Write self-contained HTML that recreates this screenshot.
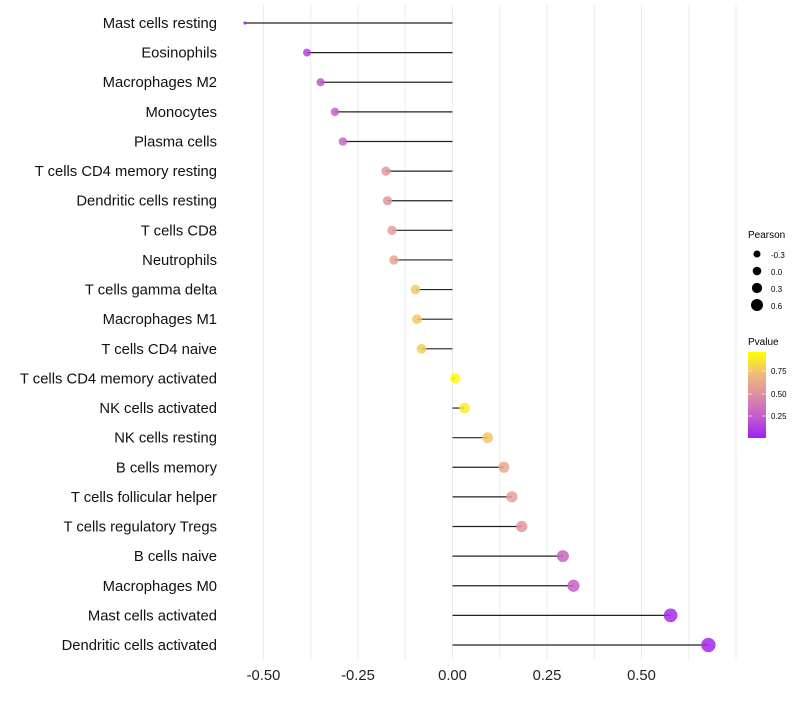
<!DOCTYPE html>
<html><head><meta charset="utf-8"><style>
body{margin:0;background:#fff;font-family:"Liberation Sans",sans-serif}
svg text{font-family:"Liberation Sans",sans-serif}
</style></head><body>
<svg id="chart" width="800" height="700" viewBox="0 0 800 700">
<defs><linearGradient id="pg" x1="0" y1="1" x2="0" y2="0">
<stop offset="0" stop-color="#a020f0"/><stop offset="0.25" stop-color="#c35ccc"/><stop offset="0.5" stop-color="#dc8fa4"/><stop offset="0.75" stop-color="#f0bc78"/><stop offset="1" stop-color="#ffff00"/></linearGradient></defs>
<g id="grid"></g>
<g id="marks"></g>
<g id="ylabels"></g>
<g id="xlabels"></g>
<g>
<text x="748" y="238" font-size="10">Pearson</text>
<circle cx="757" cy="254" r="3.5" fill="#000"/><text x="771" y="258" font-size="8">-0.3</text>
<circle cx="757" cy="271" r="4.3" fill="#000"/><text x="771" y="275" font-size="8">0.0</text>
<circle cx="757" cy="288" r="5.1" fill="#000"/><text x="771" y="292" font-size="8">0.3</text>
<circle cx="757" cy="305" r="6" fill="#000"/><text x="771" y="309" font-size="8">0.6</text>
</g>
<g>
<text x="748" y="345" font-size="10">Pvalue</text>
<rect x="748" y="352" width="18" height="86" fill="url(#pg)"/>
<line x1="748" x2="752" y1="371" y2="371" stroke="#fff" stroke-width="0.6"/><line x1="762" x2="766" y1="371" y2="371" stroke="#fff" stroke-width="0.6"/>
<line x1="748" x2="752" y1="394" y2="394" stroke="#fff" stroke-width="0.6"/><line x1="762" x2="766" y1="394" y2="394" stroke="#fff" stroke-width="0.6"/>
<line x1="748" x2="752" y1="416" y2="416" stroke="#fff" stroke-width="0.6"/><line x1="762" x2="766" y1="416" y2="416" stroke="#fff" stroke-width="0.6"/>
<text x="771" y="374" font-size="8">0.75</text><text x="771" y="397" font-size="8">0.50</text><text x="771" y="419" font-size="8">0.25</text>
</g>
</svg>
<script>
const categories=["Mast cells resting","Eosinophils","Macrophages M2","Monocytes","Plasma cells","T cells CD4 memory resting","Dendritic cells resting","T cells CD8","Neutrophils","T cells gamma delta","Macrophages M1","T cells CD4 naive","T cells CD4 memory activated","NK cells activated","NK cells resting","B cells memory","T cells follicular helper","T cells regulatory  Tregs ","B cells naive","Macrophages M0","Mast cells activated","Dendritic cells activated"];
const pearson=[-0.549,-0.385,-0.349,-0.311,-0.29,-0.176,-0.172,-0.160,-0.155,-0.098,-0.094,-0.082,0.007,0.032,0.093,0.136,0.157,0.183,0.292,0.32,0.577,0.677];
const pvalues=[0.02,0.15,0.22,0.28,0.32,0.55,0.55,0.6,0.62,0.8,0.8,0.82,0.98,0.93,0.78,0.65,0.6,0.55,0.3,0.28,0.05,0.03];
const xTicks=[-0.5,-0.25,0,0.25,0.5];
const xTickLabels=["-0.50","-0.25","0.00","0.25","0.50"];
const NS="http://www.w3.org/2000/svg";
const xs=v=>452.5+v*378;
const ys=i=>23+i*(622/21);
const rs=v=>v<-0.45?1.6:4+3*(v+0.38);
const stops=[[0,[160,32,240]],[0.25,[195,92,204]],[0.5,[220,143,164]],[0.75,[240,188,120]],[1,[255,255,0]]];
function col(p){for(let k=1;k<stops.length;k++){if(p<=stops[k][0]){const a=stops[k-1],b=stops[k],t=(p-a[0])/(b[0]-a[0]);return "rgb("+a[1].map((c,j)=>Math.round(c+(b[1][j]-c)*t)).join(",")+")";}}return "rgb(255,255,0)";}
function mk(tag,attrs,parent){const e=document.createElementNS(NS,tag);for(const k in attrs)e.setAttribute(k,attrs[k]);parent.appendChild(e);return e;}
const grid=document.getElementById('grid'),marks=document.getElementById('marks'),yl=document.getElementById('ylabels'),xl=document.getElementById('xlabels');
for(let v=-0.5;v<=0.751;v+=0.125){const g=mk('line',{x1:xs(v),x2:xs(v),y1:5,y2:660,stroke:'#ebebeb','stroke-width':1},grid);

}
xTicks.forEach((t,i)=>{const e=mk('text',{x:xs(t),y:680,'font-size':14.8,'text-anchor':'middle',fill:'#222'},xl);e.textContent=xTickLabels[i];

});
categories.forEach((c,i)=>{const y=ys(i);
const l=mk('line',{x1:xs(0),x2:xs(pearson[i]),y1:y,y2:y,stroke:'#222','stroke-width':1.2},marks);


const p=mk('circle',{cx:xs(pearson[i]),cy:y,r:rs(pearson[i]),fill:col(pvalues[i]),'fill-opacity':0.85},marks);


const t=mk('text',{x:217,y:y+5,'font-size':14.8,'text-anchor':'end',fill:'#111'},yl);t.textContent=c;

});
</script>
</body></html>
